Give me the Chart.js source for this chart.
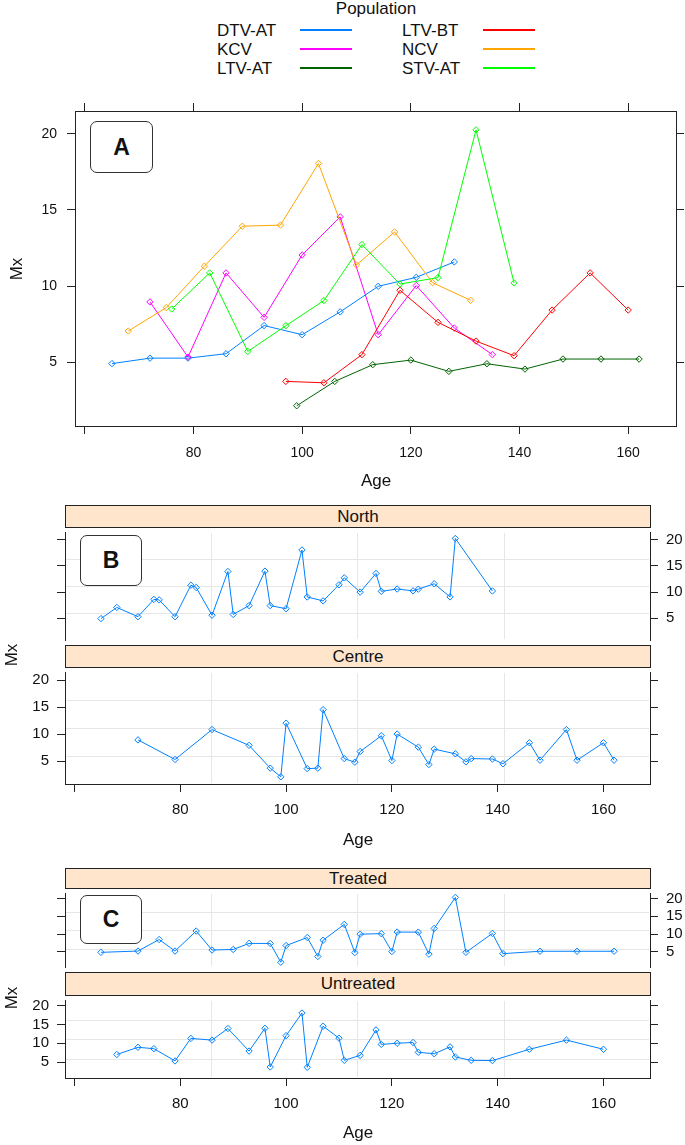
<!DOCTYPE html>
<html lang="en">
<head>
<meta charset="UTF-8">
<title>Mx by Age</title>
<style>
  body { margin: 0; background: #fff; font-family: 'Liberation Sans', Arial, sans-serif; color: #111; }
  #page { position: relative; width: 685px; height: 1145px; overflow: hidden; }
  canvas, .txt, .strip, .tag, .key { position: absolute; }
  .txt { white-space: nowrap; font-size: 17px; line-height: 20px; transform: translate(-50%, -50%); }
  .txt.left { transform: translate(0, -50%); }
  .txt.rot { transform: translate(-50%, -50%) rotate(-90deg); }
  .strip { box-sizing: border-box; left: 65px; width: 586px; background: #ffe5cc; border: 1px solid #222;
           text-align: center; font-size: 17px; display: flex; align-items: center; justify-content: center; }
  .tag { box-sizing: border-box; border: 1px solid #333; border-radius: 7px; background: #fff;
         font-weight: bold; font-size: 23px; display: flex; align-items: center; justify-content: center; }
  .key { height: 2px; }
</style>
</head>
<body>
<div id="page">
  <canvas id="cA" width="685" height="405" style="left:0;top:95px"></canvas>
  <canvas id="cN" width="685" height="118" style="left:0;top:527px"></canvas>
  <canvas id="cC" width="685" height="183" style="left:0;top:667px"></canvas>
  <canvas id="cT" width="685" height="84" style="left:0;top:888px"></canvas>
  <canvas id="cU" width="685" height="150" style="left:0;top:995px"></canvas>

  <div class="strip" style="top:505px;height:23px">North</div>
  <div class="strip" style="top:645px;height:23px">Centre</div>
  <div class="strip" style="top:868px;height:21px">Treated</div>
  <div class="strip" style="top:972px;height:24px">Untreated</div>

  <div class="tag" style="left:90px;top:121px;width:63px;height:52px">A</div>
  <div class="tag" style="left:80px;top:535px;width:62px;height:51px">B</div>
  <div class="tag" style="left:80px;top:895px;width:62px;height:49px">C</div>

  <div class="txt rot" style="left:17px;top:269px">Mx</div>
  <div class="txt" style="left:376px;top:481px">Age</div>
  <div class="txt rot" style="left:12px;top:655px">Mx</div>
  <div class="txt" style="left:358px;top:840px">Age</div>
  <div class="txt rot" style="left:12px;top:998px">Mx</div>
  <div class="txt" style="left:358px;top:1133px">Age</div>

  <div class="txt" style="left:376px;top:9px">Population</div>
  <div id="legend"></div>
</div>

<script src="https://cdn.jsdelivr.net/npm/chart.js"></script>
<script>
// populations and their colours (lattice superpose defaults)
const populations = ['DTV-AT', 'KCV', 'LTV-AT', 'LTV-BT', 'NCV', 'STV-AT'];
const popColors = ['#0080ff', '#ff00ff', '#006400', '#ff0000', '#ffa500', '#00ff00'];

// age and Mx for each population
const dtvAge = [65, 72, 79, 86, 93, 100, 107, 114, 121, 128];
const dtvMx = [4.9, 5.26, 5.26, 5.55, 7.4, 6.8, 8.3, 9.98, 10.57, 11.58];
const kcvAge = [72, 79, 86, 93, 100, 107, 114, 121, 128, 135];
const kcvMx = [8.95, 5.33, 10.86, 7.94, 12.04, 14.54, 6.8, 10.03, 7.24, 5.49];
const ltvAtAge = [99, 106, 113, 120, 127, 134, 141, 148, 155, 162];
const ltvAtMx = [2.13, 3.73, 4.83, 5.13, 4.39, 4.89, 4.54, 5.2, 5.2, 5.2];
const ltvBtAge = [97, 104, 111, 118, 125, 132, 139, 146, 153, 160];
const ltvBtMx = [3.73, 3.64, 5.49, 9.72, 7.61, 6.38, 5.42, 8.42, 10.86, 8.42];
const ncvAge = [68, 75, 82, 89, 96, 103, 110, 117, 124, 131];
const ncvMx = [7.04, 8.58, 11.3, 13.93, 14.0, 18.05, 11.38, 13.55, 10.22, 9.06];
const stvAge = [76, 83, 90, 97, 104, 111, 118, 125, 132, 139];
const stvMx = [8.49, 10.86, 5.7, 7.39, 9.04, 12.72, 10.13, 10.55, 20.26, 10.2];

// which populations go in each panel of B and C
const northPops = ['DTV-AT', 'NCV', 'STV-AT'];
const centrePops = ['KCV', 'LTV-AT', 'LTV-BT'];
const treatedPops = ['DTV-AT', 'LTV-AT', 'STV-AT'];
const untreatedPops = ['KCV', 'LTV-BT', 'NCV'];

// age ticks that carry a label (60 only gets a tick mark)
const ageLabels = [80, 100, 120, 140, 160];

const popAges = [dtvAge, kcvAge, ltvAtAge, ltvBtAge, ncvAge, stvAge];
const popMx = [dtvMx, kcvMx, ltvAtMx, ltvBtMx, ncvMx, stvMx];

const FONT = "'Liberation Sans', Arial, sans-serif";
const xMin = 58.2, xMax = 168.8, yMin = 0.8, yMax = 21.5;

function points(i) {
  return popAges[i].map((a, k) => ({ x: a, y: popMx[i][k] }));
}
function groupPoints(names) {
  return names.flatMap(n => points(populations.indexOf(n))).sort((a, b) => a.x - b.x);
}
function lineSet(data, color, order) {
  return {
    data, order,
    borderColor: color, backgroundColor: 'rgba(0,0,0,0)', borderWidth: 1, tension: 0, fill: false,
    pointStyle: 'rectRot', pointRadius: 3.2, pointBorderWidth: 1,
    pointBorderColor: color, pointBackgroundColor: 'rgba(0,0,0,0)'
  };
}

// light grid splitting each panel into quarters
const panelGrid = {
  id: 'panelGrid',
  beforeDatasetsDraw(chart, args, opts) {
    if (!opts.show) return;
    const { ctx, chartArea: a, scales: { x, y } } = chart;
    ctx.save();
    ctx.strokeStyle = '#e6e6e6';
    ctx.lineWidth = 1;
    ctx.beginPath();
    for (let k = 1; k < 4; k++) {
      const px = Math.round(x.getPixelForValue(xMin + (xMax - xMin) * k / 4)) + 0.5;
      const py = Math.round(y.getPixelForValue(yMin + (yMax - yMin) * k / 4)) + 0.5;
      ctx.moveTo(px, a.top + 1); ctx.lineTo(px, a.bottom - 1);
      ctx.moveTo(a.left + 1, py); ctx.lineTo(a.right - 1, py);
    }
    ctx.stroke();
    ctx.restore();
  }
};

function makeChart(id, datasets, o) {
  const axis = (pos, isX, size, labels, pad) => ({
    type: 'linear',
    position: pos,
    min: isX ? xMin : yMin,
    max: isX ? xMax : yMax,
    ticks: {
      display: labels, stepSize: isX ? 20 : 5, includeBounds: false, autoSkip: false,
      maxRotation: 0, padding: pad, color: '#111', font: { family: FONT, size: o.fontSize },
      callback: v => (!isX || ageLabels.includes(v)) ? v : ''
    },
    grid: { drawOnChartArea: false, drawTicks: true, tickLength: o.tick, color: '#222' },
    border: { display: true, color: '#222', width: 1 },
    afterFit: s => {
      if (isX) s.height = size; else s.width = size;
      s.paddingTop = s.paddingBottom = s.paddingLeft = s.paddingRight = 0;
    }
  });
  const scales = {
    x: axis('bottom', true, o.bottom || 0, !!o.bottom, o.xPad),
    y: axis('left', false, o.left, o.leftLabels, o.yPad),
    y2: axis('right', false, o.right, o.rightLabels, o.yPad)
  };
  if (!o.bottom) scales.x.display = false;
  if (o.top) scales.xt = axis('top', true, o.top, false, 0);
  return new Chart(document.getElementById(id), {
    type: 'line',
    data: { datasets },
    options: {
      responsive: false, animation: false, devicePixelRatio: 1,
      layout: { padding: 0 },
      plugins: { legend: { display: false }, tooltip: { enabled: false }, panelGrid: { show: !!o.grid } },
      scales
    },
    plugins: [panelGrid]
  });
}

// legend, two columns of three
const legend = document.getElementById('legend');
populations.forEach((p, i) => {
  const col = i < 3 ? 0 : 1, row = i % 3;
  const textX = [217, 402][col], lineX = [300, 483][col];
  const rowY = [31, 50, 69][row];
  const t = document.createElement('div');
  t.className = 'txt left';
  t.style.left = textX + 'px';
  t.style.top = rowY + 'px';
  t.textContent = p;
  legend.appendChild(t);
  const k = document.createElement('div');
  k.className = 'key';
  k.style.left = lineX + 'px';
  k.style.top = (rowY - 2) + 'px';
  k.style.width = '52px';
  k.style.background = popColors[i];
  legend.appendChild(k);
});

// panel A: one line per population
makeChart('cA',
  populations.map((p, i) => lineSet(points(i), popColors[i], populations.length - i)),
  { left: 75, right: 9, top: 16, bottom: 74, leftLabels: true, rightLabels: false,
    fontSize: 14, tick: 8, yPad: 10, xPad: 11 });

// panel B: North / Centre
const blue = popColors[0];
makeChart('cN', [lineSet(groupPoints(northPops), blue, 0)],
  { left: 65, right: 35, leftLabels: false, rightLabels: true, grid: true, fontSize: 15, tick: 8, yPad: 8 });
makeChart('cC', [lineSet(groupPoints(centrePops), blue, 0)],
  { left: 65, right: 35, bottom: 66, leftLabels: true, rightLabels: false, grid: true,
    fontSize: 15, tick: 8, yPad: 8, xPad: 9 });

// panel C: Treated / Untreated
makeChart('cT', [lineSet(groupPoints(treatedPops), blue, 0)],
  { left: 65, right: 35, leftLabels: false, rightLabels: true, grid: true, fontSize: 15, tick: 8, yPad: 8 });
makeChart('cU', [lineSet(groupPoints(untreatedPops), blue, 0)],
  { left: 65, right: 35, bottom: 67, leftLabels: true, rightLabels: false, grid: true,
    fontSize: 15, tick: 8, yPad: 8, xPad: 9 });
</script>
</body>
</html>
